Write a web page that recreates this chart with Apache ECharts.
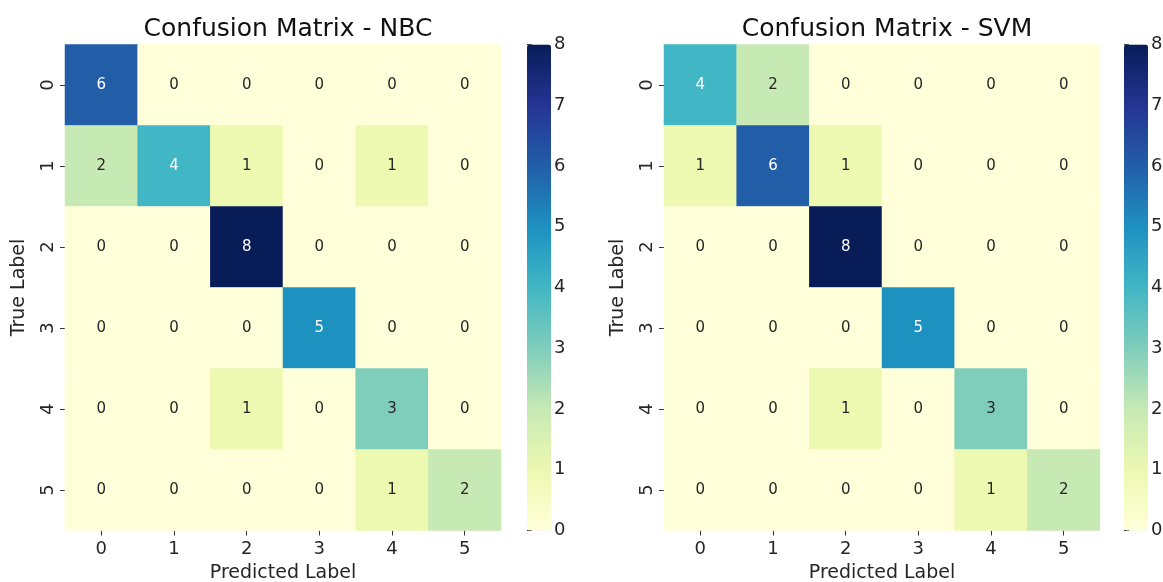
<!DOCTYPE html>
<html>
<head>
<meta charset="utf-8">
<script src="https://cdn.jsdelivr.net/npm/echarts@6/dist/echarts.min.js"></script>
<style>
html, body { margin: 0; padding: 0; background: #fff; }
#main { width: 1163px; height: 582px; }
</style>
</head>
<body>
<div id="main"></div>
<script>
// class labels (predicted / true)
var classes = ['0', '1', '2', '3', '4', '5'];
var barTicks = [0, 1, 2, 3, 4, 5, 6, 7, 8];

// rows = true label, cols = predicted label
var nbcMatrix = [
    [6, 0, 0, 0, 0, 0],
    [2, 4, 1, 0, 1, 0],
    [0, 0, 8, 0, 0, 0],
    [0, 0, 0, 5, 0, 0],
    [0, 0, 1, 0, 3, 0],
    [0, 0, 0, 0, 1, 2]
];
var svmMatrix = [
    [4, 2, 0, 0, 0, 0],
    [1, 6, 1, 0, 0, 0],
    [0, 0, 8, 0, 0, 0],
    [0, 0, 0, 5, 0, 0],
    [0, 0, 1, 0, 3, 0],
    [0, 0, 0, 0, 1, 2]
];

// YlGnBu
var ylgnbu = ['#ffffd9', '#edf8b1', '#c7e9b4', '#7fcdbb', '#41b6c4', '#1d91c0', '#225ea8', '#253494', '#081d58'];

var font = 'DejaVu Sans';
var txt = '#262626';

function toCells(m) {
    var out = [];
    for (var r = 0; r < m.length; r++) {
        for (var c = 0; c < m[r].length; c++) {
            var v = m[r][c];
            out.push({
                value: [c, r, v],
                label: { color: v >= 4 ? '#ffffff' : txt }
            });
        }
    }
    return out;
}

var panels = [
    { title: 'Confusion Matrix - NBC', left: 65, bar: 527, data: nbcMatrix },
    { title: 'Confusion Matrix - SVM', left: 664, bar: 1124, data: svmMatrix }
];
var top0 = 44.5, h = 486, w = 436;

var option = {
    backgroundColor: '#fff',
    animation: false,
    textStyle: { fontFamily: font },
    title: [],
    grid: [],
    xAxis: [],
    yAxis: [],
    visualMap: [],
    series: []
};

panels.forEach(function(p, i) {
    option.title.push({
        text: p.title,
        left: p.left + w / 2,
        top: 12,
        textAlign: 'center',
        textStyle: { fontFamily: font, fontSize: 25, fontWeight: 'normal', color: '#111' }
    });
    // heatmap grid
    option.grid.push({ left: p.left, top: top0, width: w, height: h, outerBoundsMode: 'none' });
    // colorbar grid (only used for ticks)
    option.grid.push({ left: p.bar, top: top0, width: 24, height: h, outerBoundsMode: 'none' });

    option.xAxis.push({
        type: 'category',
        gridIndex: i * 2,
        data: classes,
        name: 'Predicted Label',
        nameLocation: 'middle',
        nameGap: 33,
        nameTextStyle: { fontFamily: font, fontSize: 19, color: txt },
        axisLine: { show: false },
        axisTick: { show: true, alignWithLabel: true, length: 5, lineStyle: { color: '#333' } },
        axisLabel: { fontFamily: font, fontSize: 18, color: txt, margin: 10 },
        splitLine: { show: false }
    });
    option.xAxis.push({
        type: 'value',
        gridIndex: i * 2 + 1,
        show: false
    });
    option.yAxis.push({
        type: 'category',
        gridIndex: i * 2,
        data: classes,
        inverse: true,
        name: 'True Label',
        nameLocation: 'middle',
        nameGap: 36,
        nameRotate: 90,
        nameTextStyle: { fontFamily: font, fontSize: 19, color: txt },
        axisLine: { show: false },
        axisTick: { show: true, alignWithLabel: true, length: 5, lineStyle: { color: '#333' } },
        axisLabel: { fontFamily: font, fontSize: 18, color: txt, rotate: 90, margin: 8 },
        splitLine: { show: false }
    });
    option.yAxis.push({
        type: 'value',
        gridIndex: i * 2 + 1,
        position: 'right',
        min: barTicks[0],
        max: barTicks[barTicks.length - 1],
        interval: 1,
        axisLine: { show: false },
        axisTick: { show: true, length: 5, lineStyle: { color: '#333' } },
        axisLabel: { fontFamily: font, fontSize: 18, color: txt, margin: 3 },
        splitLine: { show: false }
    });
    option.visualMap.push({
        type: 'continuous',
        seriesIndex: i,
        min: 0,
        max: 8,
        calculable: false,
        left: p.bar,
        top: top0,
        padding: 0,
        itemWidth: 24,
        itemHeight: h,
        text: null,
        showLabel: false,
        inRange: { color: ylgnbu }
    });
    option.series.push({
        type: 'heatmap',
        xAxisIndex: i * 2,
        yAxisIndex: i * 2,
        data: toCells(p.data),
        label: { show: true, fontFamily: font, fontSize: 15 },
        itemStyle: { borderWidth: 0 },
        emphasis: { disabled: true }
    });
});

var chart = echarts.init(document.getElementById('main'));
chart.setOption(option);
</script>
</body>
</html>
